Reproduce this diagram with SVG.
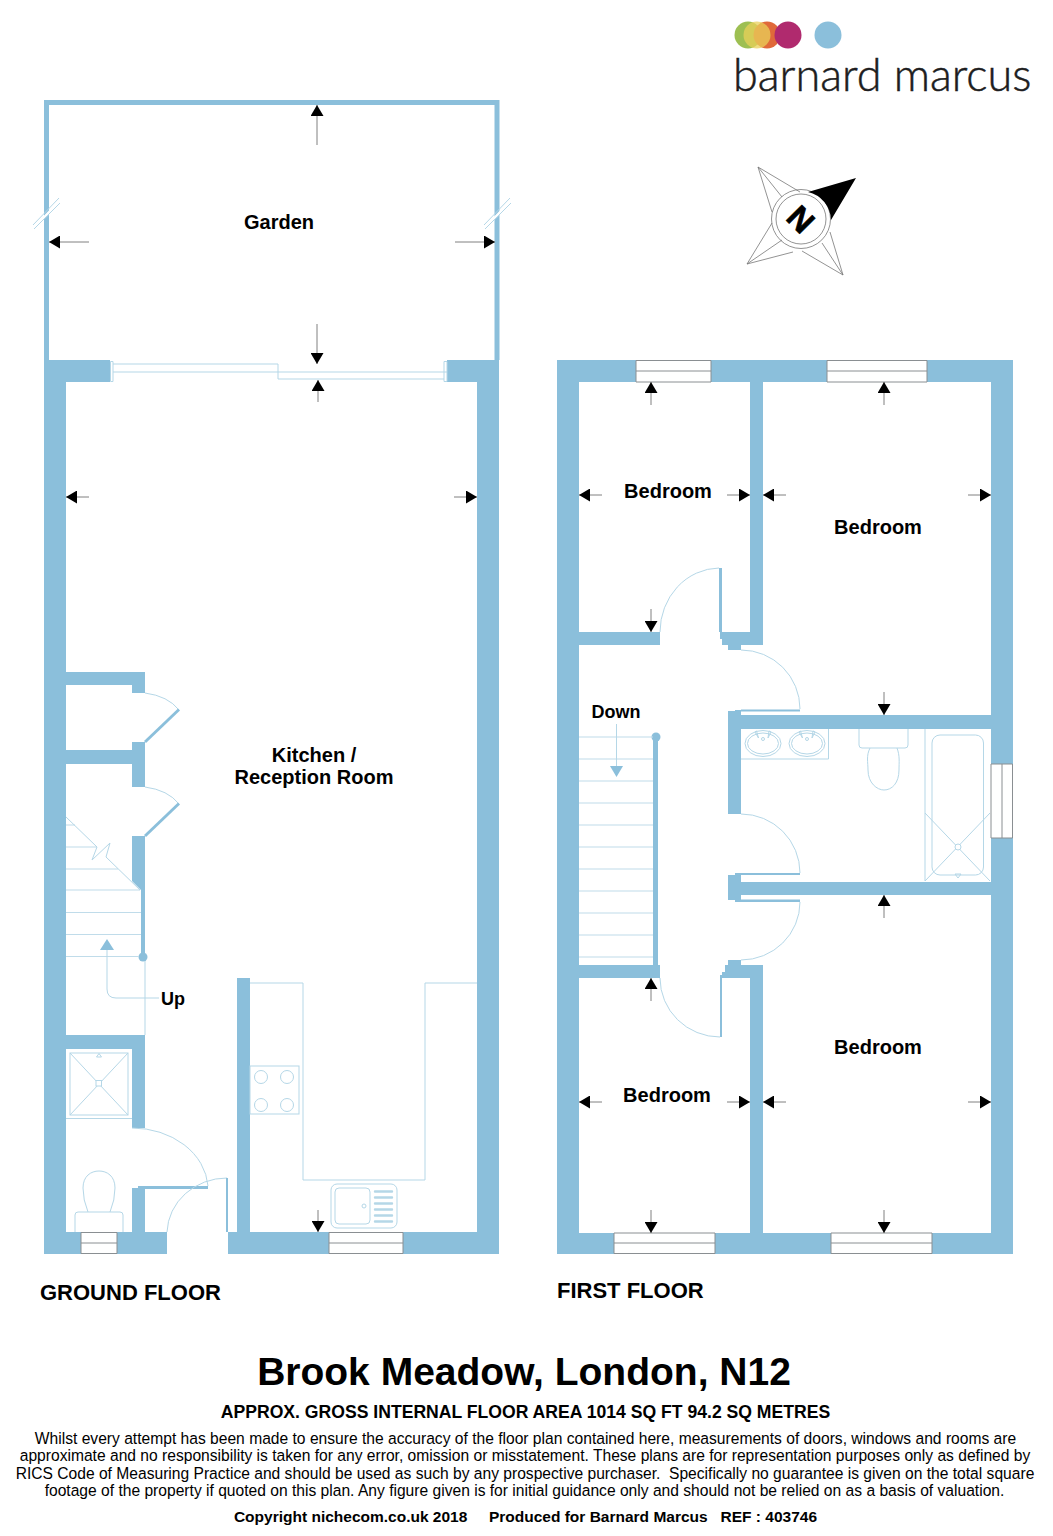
<svg xmlns="http://www.w3.org/2000/svg" width="1053" height="1536" viewBox="0 0 1053 1536">
<style>
.w{fill:#8bbfdb}
.l{fill:none;stroke:#b5d7e7;stroke-width:1}
.s{fill:none;stroke:#c0dcea;stroke-width:1.200}
.win{fill:#fff;stroke:#8a8f92;stroke-width:1}
.a{stroke:#808080;stroke-width:1;fill:none;marker-end:url(#h)}
.leaf{fill:#8bbfdb}
text{font-family:"Liberation Sans",Arial,sans-serif;fill:#000}
.b{font-weight:bold}
.r{font-weight:bold;font-size:20px;text-anchor:middle}
.p{font-size:15.62px;text-anchor:middle;white-space:pre}
</style>
<defs>
<marker id="h" markerUnits="userSpaceOnUse" markerWidth="12" markerHeight="13" refX="11" refY="6.500" orient="auto"><path d="M0 0L11 6.500L0 13Z" fill="#000"/></marker>
</defs>
<rect width="1053" height="1536" fill="#fff"/>

<g id="logo">
<circle cx="748" cy="35" r="13.500" fill="#9dbf52"/>
<circle cx="767" cy="35" r="13.500" fill="#e0693a"/>
<circle cx="757" cy="35" r="13.500" fill="#ead05a" fill-opacity=".75"/>
<circle cx="788" cy="35" r="13.500" fill="#b02a6e"/>
<circle cx="828" cy="35" r="13.500" fill="#8bbfdb"/>
<text x="733" y="91" font-size="45" style="font-family:'Lato','Noto Sans',sans-serif;font-weight:300;fill:#1d1d20;stroke:#1d1d20;stroke-width:.5">barnard marcus</text>
</g>

<g id="compass">
<g fill="none" stroke="#777" stroke-width=".8">
<path d="M800 192L758 167L772 212M758 167L782 197"/>
<path d="M772 223L747 264L793 252M747 264L782 240"/>
<path d="M830 232L843 275L802 251M843 275L822 243"/>
<circle cx="801" cy="219" r="29.500"/>
<circle cx="801" cy="219" r="25"/>
</g>
<path d="M808 192L856 178L831 220A29.500 29.500 0 0 0 808 192Z" fill="#000"/>
<text transform="translate(801 219) rotate(45)" y="11.500" font-size="32" text-anchor="middle" class="b" style="stroke:#000;stroke-width:.8">N</text>
</g>

<g id="ground-floor">
<g id="garden">
<path d="M46.500 360V102.500H497V360" fill="none" stroke="#8bbfdb" stroke-width="5"/>
<polygon points="33,227 59,200 60,204 34,229" fill="#fff"/>
<polygon points="484,227 510,200 511,204 485,229" fill="#fff"/>
<path class="l" d="M33 225L59 198M34 229L60 203M484 225L510 198M485 229L511 203"/>
</g>
<g id="gf-walls">
<rect class="w" x="44" y="360" width="22" height="894"/>
<rect class="w" x="477" y="360" width="22" height="894"/>
<rect class="w" x="44" y="360" width="66" height="22"/>
<rect class="w" x="447" y="360" width="52" height="22"/>
<rect class="w" x="44" y="1232" width="123" height="22"/>
<rect class="w" x="228" y="1232" width="271" height="22"/>
<rect class="w" x="66" y="672" width="79" height="13"/>
<rect class="w" x="132" y="672" width="13" height="21"/>
<rect class="w" x="66" y="750" width="79" height="14"/>
<rect class="w" x="132" y="742" width="13" height="45"/>
<path class="w" d="M132 836H145V956H141V890L132 881Z"/>
<circle class="w" cx="143" cy="957" r="4.500"/>
<rect class="w" x="66" y="1035" width="79" height="14"/>
<rect class="w" x="132" y="1035" width="13" height="93"/>
<rect class="w" x="132" y="1188" width="13" height="44"/>
<rect class="w" x="237" y="978" width="13" height="254"/>
</g>
<g id="gf-windows">
<path class="win" d="M81 1232.500H117V1253.500H81ZM81 1243H117"/>
<path class="win" d="M329 1232.500H403V1253.500H329ZM329 1243H403"/>
<path class="l" d="M110.500 361.500H113V381.500H110.500ZM113 364H278V379H444M113 372H447M444 361.500H447V381.500H444Z"/>
</g>
<g id="gf-doors">
<path class="l" d="M145 693Q168 696 179 710"/>
<path class="leaf" d="M178 708.500L180 710.500L146 743L144 741Z"/>
<path class="l" d="M145 787Q168 790 179 804"/>
<path class="leaf" d="M178 802.500L180 804.500L146 837L144 835Z"/>
<path class="l" d="M132 1128A76 62 0 0 1 208 1186"/>
<rect class="leaf" x="138" y="1186" width="70" height="3"/>
<path class="l" d="M227 1178A60 56 0 0 0 167 1232"/>
<rect class="leaf" x="226" y="1178" width="2" height="54"/>
</g>
<g id="gf-stairs">
<path class="s" d="M66 825H75M66 847H97M66 869H118M66 890H140M66 912.500H141M66 934.500H141M66 956.500H139"/>
<path class="l" d="M66 817L97 847L92 860L110 843L106 857L140 890"/>
<path class="l" d="M145 961V1035M107 950V989Q107 998 116 998H159"/>
<path class="w" d="M107 939L114 950H100Z"/>
</g>
<g id="gf-fixtures">
<path class="l" d="M66 1118.500H132"/>
<rect class="l" x="70" y="1053" width="58" height="62"/>
<path class="l" d="M70 1053L128 1115M128 1053L70 1115M96.500 1057H101.500L99 1053.500Z"/>
<rect x="96" y="1080.500" width="5.500" height="5.500" fill="#fff" stroke="#b5d7e7"/>
<path class="l" d="M88 1212Q83 1200 83 1188C83 1176 91 1171 99 1171C107 1171 115 1176 115 1188Q115 1200 110 1212"/>
<path class="l" d="M75 1232V1215Q75 1212 78 1212H120Q123 1212 123 1215V1232"/>
<path class="l" d="M250 983H303V1180H425V983H477"/>
<rect class="l" x="250" y="1066" width="49" height="48"/>
<circle class="l" cx="261" cy="1077" r="6.500"/>
<circle class="l" cx="287" cy="1077" r="6.500"/>
<circle class="l" cx="261" cy="1105" r="6.500"/>
<circle class="l" cx="287" cy="1105" r="6.500"/>
<rect class="l" x="331" y="1184" width="66" height="44" rx="6"/>
<rect class="l" x="335" y="1188" width="35" height="36" rx="4"/>
<circle class="l" cx="364" cy="1206" r="2"/>
<path fill="none" stroke="#b5d7e7" stroke-width="2.400" stroke-linecap="round" d="M375 1191.500H392M375 1197.500H392M375 1203.500H392M375 1209.500H392M375 1215.500H392M375 1221.500H392"/>
</g>
<g id="gf-arrows">
<path class="a" d="M317 145V105"/>
<path class="a" d="M89 242H49"/>
<path class="a" d="M455 242H495"/>
<path class="a" d="M317 324V364"/>
<path class="a" d="M318 402V380"/>
<path class="a" d="M89 497H66"/>
<path class="a" d="M454 497H477"/>
<path class="a" d="M318 1210V1232"/>
</g>
<text class="r" x="279" y="229">Garden</text>
<text class="r" x="314" y="762">Kitchen /</text>
<text class="r" x="314" y="784">Reception Room</text>
<text class="b" x="161" y="1005" font-size="18">Up</text>
<text class="b" x="40" y="1300" font-size="22">GROUND FLOOR</text>
</g>

<g id="first-floor">
<g id="ff-walls">
<rect class="w" x="557" y="360" width="22" height="894"/>
<rect class="w" x="991" y="360" width="22" height="894"/>
<rect class="w" x="557" y="360" width="456" height="22"/>
<rect class="w" x="557" y="1233" width="456" height="21"/>
<rect class="w" x="750" y="382" width="13" height="263"/>
<rect class="w" x="579" y="632" width="81" height="13"/>
<path class="w" d="M720 632H763V645H741V650H728V645H722V639H720Z"/>
<path class="w" d="M728 814V711H735V710H741V715H991V729H741V814Z"/>
<path class="w" d="M728 875H735V874H741V882H991V895H741V901H735V900H728Z"/>
<path class="w" d="M728 965V960H741V965H763V1233H750V978H722V972H725V965Z"/>
<rect class="w" x="579" y="965" width="81" height="13"/>
<rect class="w" x="653" y="737" width="5" height="228"/>
<circle class="w" cx="656" cy="737" r="4.500"/>
</g>
<g id="ff-windows">
<path class="win" d="M636 360.500H711V382H636ZM636 371H711"/>
<path class="win" d="M827 360.500H927V382H827ZM827 371H927"/>
<path class="win" d="M614 1233H715V1253.500H614ZM614 1243H715"/>
<path class="win" d="M831 1233H932V1253.500H831ZM831 1243H932"/>
<path class="win" d="M991 764H1012.500V838H991ZM1002 764V838"/>
</g>
<g id="ff-doors">
<path class="l" d="M660 632A60 64 0 0 1 719 568"/>
<rect class="leaf" x="719" y="568" width="3" height="64"/>
<path class="l" d="M741 650A59 59 0 0 1 800 709"/>
<rect class="leaf" x="741" y="709.500" width="59" height="2"/>
<path class="l" d="M741 814A59 59 0 0 1 800 873"/>
<rect class="leaf" x="735" y="873" width="65" height="2"/>
<path class="l" d="M800 902A59 58 0 0 1 741 960"/>
<rect class="leaf" x="735" y="899.500" width="65" height="2.500"/>
<path class="l" d="M720 1037A60 59 0 0 1 660 978"/>
<rect class="leaf" x="720" y="975" width="2" height="62"/>
</g>
<g id="ff-stairs">
<path class="s" d="M579 737H653M579 759H653M579 781H653M579 803H653M579 825H653M579 847H653M579 869H653M579 891H653M579 913H653M579 935H653M579 957H653"/>
<path class="l" d="M616.500 724V767"/>
<path class="w" d="M610 766H623L616.500 777Z"/>
</g>
<g id="ff-fixtures">
<path class="l" d="M741 759H828.500V729"/>
<ellipse class="l" cx="763" cy="743.500" rx="18" ry="13"/>
<ellipse class="l" cx="763" cy="743.500" rx="15.500" ry="10.500"/>
<ellipse class="l" cx="807" cy="743.500" rx="18" ry="13"/>
<ellipse class="l" cx="807" cy="743.500" rx="15.500" ry="10.500"/>
<path class="l" d="M756.500 731L758.500 738L755 732ZM769 731L768 738L771 732ZM800.500 731L802.500 738L799 732ZM813 731L812 738L815 732Z"/>
<circle class="l" cx="763" cy="739" r="1.500"/>
<circle class="l" cx="807" cy="739" r="1.500"/>
<path class="l" d="M859 729V745Q859 748 862 748H905Q908 748 908 745V729"/>
<path class="l" d="M870 748C866 756 868 762 868 770C868 783 877 790 884 790C892 790 899 783 899 770C899 762 900 756 897 748"/>
<path class="l" d="M925 729V881"/>
<rect class="l" x="932" y="735" width="51.500" height="140" rx="8"/>
<path class="l" d="M925 813L990 881M990 813L925 881M955 874H961L958 878Z"/>
<circle cx="958" cy="847" r="3" fill="#fff" stroke="#b5d7e7"/>
</g>
<g id="ff-arrows">
<path class="a" d="M651 405V382"/>
<path class="a" d="M602 495H579"/>
<path class="a" d="M727 495H750"/>
<path class="a" d="M651 609V632"/>
<path class="a" d="M884 405V382"/>
<path class="a" d="M786 495H763"/>
<path class="a" d="M968 495H991"/>
<path class="a" d="M884 692V715"/>
<path class="a" d="M651 1001V978"/>
<path class="a" d="M602 1102H579"/>
<path class="a" d="M727 1102H750"/>
<path class="a" d="M651 1210V1233"/>
<path class="a" d="M884 918V895"/>
<path class="a" d="M786 1102H763"/>
<path class="a" d="M968 1102H991"/>
<path class="a" d="M884 1210V1233"/>
</g>
<text class="r" x="668" y="498">Bedroom</text>
<text class="r" x="878" y="534">Bedroom</text>
<text class="r" x="667" y="1102">Bedroom</text>
<text class="r" x="878" y="1054">Bedroom</text>
<text class="b" x="616" y="718" font-size="18" text-anchor="middle">Down</text>
<text class="b" x="557" y="1298" font-size="22">FIRST FLOOR</text>
</g>

<g id="footer">
<text class="b" x="524" y="1385" font-size="39" text-anchor="middle">Brook Meadow, London, N12</text>
<text class="b" x="525.500" y="1418" font-size="17.600" text-anchor="middle">APPROX. GROSS INTERNAL FLOOR AREA 1014 SQ FT 94.2 SQ METRES</text>
<text class="p" x="525.500" y="1444">Whilst every attempt has been made to ensure the accuracy of the floor plan contained here, measurements of doors, windows and rooms are</text>
<text class="p" x="525" y="1461">approximate and no responsibility is taken for any error, omission or misstatement. These plans are for representation purposes only as defined by</text>
<text class="p" x="525" y="1479">RICS Code of Measuring Practice and should be used as such by any prospective purchaser.  Specifically no guarantee is given on the total square</text>
<text class="p" x="524.500" y="1496">footage of the property if quoted on this plan. Any figure given is for initial guidance only and should not be relied on as a basis of valuation.</text>
<text class="b" x="525.500" y="1522" font-size="15.500" text-anchor="middle" style="white-space:pre">Copyright nichecom.co.uk 2018     Produced for Barnard Marcus   REF : 403746</text>
</g>
</svg>
